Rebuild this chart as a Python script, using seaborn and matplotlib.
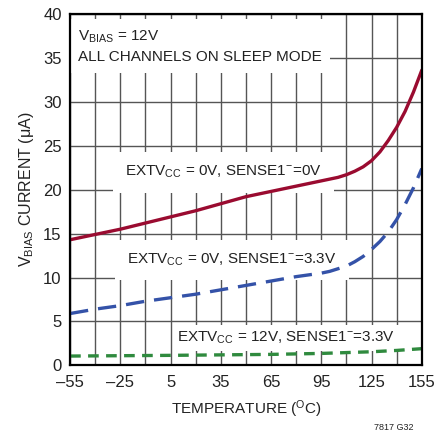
import matplotlib
matplotlib.use("Agg")
import matplotlib.pyplot as plt
import seaborn as sns

# --- data ---
temp_red = [-55, -40, -25, -10, 5, 20, 35, 50, 65, 80, 95, 100, 105, 110, 115, 120, 125, 130, 135, 140, 145, 150, 155]
cur_red = [14.3, 14.9, 15.5, 16.2, 16.9, 17.6, 18.4, 19.2, 19.8, 20.4, 21.0, 21.2, 21.4, 21.7, 22.1, 22.6, 23.3, 24.3, 25.6, 27.1, 28.9, 31.1, 33.6]

temp_blue = [-55, -40, -25, -10, 5, 20, 35, 50, 65, 80, 95, 100, 105, 110, 115, 120, 125, 130, 135, 140, 145, 150, 155]
cur_blue = [5.9, 6.4, 6.8, 7.3, 7.7, 8.1, 8.6, 9.1, 9.6, 10.1, 10.5, 10.7, 11.0, 11.3, 11.8, 12.4, 13.2, 14.1, 15.2, 16.6, 18.3, 20.2, 22.4]

temp_green = [-55, 5, 65, 95, 125, 140, 155]
cur_green = [1.06, 1.14, 1.25, 1.36, 1.55, 1.7, 1.9]

x_ticks = [-55, -25, 5, 35, 65, 95, 125, 155]
x_tick_labels = ["\u201355", "\u201325", "5", "35", "65", "95", "125", "155"]
x_grid = list(range(-55, 156, 15))
y_ticks = list(range(0, 41, 5))

red = "#9a0b30"
blue = "#3452a8"
green = "#2f8a3e"
ink = "#222222"

sns.set_style("white")
plt.rcParams["font.family"] = ["Liberation Sans", "DejaVu Sans"]
plt.rcParams["mathtext.fontset"] = "custom"
plt.rcParams["mathtext.rm"] = "Liberation Sans"
plt.rcParams["mathtext.it"] = "Liberation Sans"
plt.rcParams["mathtext.bf"] = "Liberation Sans"

fig = plt.figure(figsize=(4.38, 4.36), dpi=100)
ax = fig.add_axes([0.160, 0.162, 0.803, 0.806])

ax.set_xlim(-55, 155)
ax.set_ylim(0, 40)
ax.set_xticks(x_grid)
ax.set_xticklabels([x_tick_labels[x_ticks.index(t)] if t in x_ticks else "" for t in x_grid])
ax.set_yticks(y_ticks)
ax.grid(True, color="#555555", linewidth=1.0, zorder=0)
ax.set_axisbelow(True)
ax.tick_params(axis="x", length=0, labelsize=12, pad=7, colors=ink)
ax.tick_params(axis="y", length=0, labelsize=12, pad=6, colors=ink)
for s in ax.spines.values():
    s.set_color("black")
    s.set_linewidth(1.6)
    s.set_zorder(6)

# curves
sns.lineplot(x=temp_red, y=cur_red, color=red, linewidth=2.4, ax=ax, zorder=5)
sns.lineplot(x=temp_blue, y=cur_blue, color=blue, linewidth=2.4,
             linestyle=(0, (5.5, 3.0)), ax=ax, zorder=5)
sns.lineplot(x=temp_green, y=cur_green, color=green, linewidth=2.4,
             linestyle=(0, (3.2, 2.2)), ax=ax, zorder=5)

fs = 11
ax.text(-50.4, 36.3, "V$_{\\mathrm{BIAS}}$ = 12V\nALL CHANNELS ON SLEEP MODE",
        fontsize=fs, ha="left", va="center", linespacing=1.45, color=ink,
        bbox=dict(boxstyle="square,pad=0.55", fc="white", ec="none"), zorder=3)
ax.text(36.5, 22.0, "EXTV$_{\\mathrm{CC}}$ = 0V, SENSE1$^{-}$=0V",
        fontsize=fs, ha="center", va="center", color=ink,
        bbox=dict(boxstyle="square,pad=0.8", fc="white", ec="none"), zorder=3)
ax.text(41.6, 12.0, "EXTV$_{\\mathrm{CC}}$ = 0V, SENSE1$^{-}$=3.3V",
        fontsize=fs, ha="center", va="center", color=ink,
        bbox=dict(boxstyle="square,pad=0.8", fc="white", ec="none"), zorder=3)
ax.text(74.2, 3.1, "EXTV$_{\\mathrm{CC}}$ = 12V, SENSE1$^{-}$=3.3V",
        fontsize=fs, ha="center", va="center", color=ink,
        bbox=dict(boxstyle="square,pad=0.3", fc="white", ec="none"), zorder=3)

ax.set_xlabel("TEMPERATURE ($^{\\mathrm{O}}$C)", fontsize=11, labelpad=6, color=ink)
ax.set_ylabel("V$_{\\mathrm{BIAS}}$ CURRENT (\u03bcA)", fontsize=11.5, labelpad=5, color=ink)

fig.text(0.945, 0.01, "7817 G32", fontsize=6.5, ha="right", va="bottom", color=ink)

fig.savefig("out.png", dpi=100)
